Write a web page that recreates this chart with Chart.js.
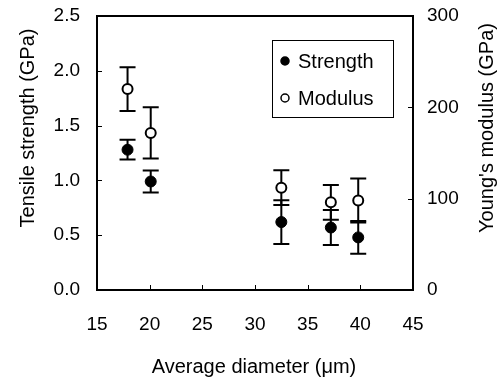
<!DOCTYPE html>
<html>
<head>
<meta charset="utf-8">
<script src="https://cdn.jsdelivr.net/npm/chart.js@4.4.1/dist/chart.umd.min.js"></script>
<style>
  html, body { margin: 0; padding: 0; background: #fff; }
  #wrap { width: 500px; height: 377px; }
</style>
</head>
<body>
<div id="wrap"><canvas id="fiberChart" width="500" height="377"></canvas></div>
<script>
// values
const diameters = [17.9, 20.1, 32.5, 37.2, 39.8];
const strength = [1.28, 0.99, 0.62, 0.57, 0.48];
const strengthErr = [0.09, 0.10, 0.20, 0.16, 0.15];
const modulus = [220, 172, 112, 96, 98];
const modulusErr = [24, 28, 19, 19, 24];
const xTicks = [15, 20, 25, 30, 35, 40, 45];
const strengthTicks = [0, 0.5, 1.0, 1.5, 2.0, 2.5];
const modulusTicks = [0, 100, 200, 300];
const leftTitle = "Tensile strength (GPa)";
const rightTitle = "Young's modulus (GPa)";
const bottomTitle = "Average diameter (μm)";

const FONT = "'Liberation Sans', Arial, sans-serif";

// error bars, frame, inward ticks, axis titles and legend box
const extras = {
  id: "extras",
  beforeDatasetsDraw(chart) {
    const ctx = chart.ctx;
    const x = chart.scales.x;
    ctx.save();
    ctx.strokeStyle = "#000";
    ctx.lineWidth = 2;
    chart.data.datasets.forEach((ds) => {
      const ys = chart.scales[ds.yAxisID];
      ds.data.forEach((p, i) => {
        const px = x.getPixelForValue(p.x);
        const top = ys.getPixelForValue(p.y + ds.errors[i]);
        const bot = ys.getPixelForValue(p.y - ds.errors[i]);
        ctx.beginPath();
        ctx.moveTo(px, top);
        ctx.lineTo(px, bot);
        ctx.moveTo(px - 8, top);
        ctx.lineTo(px + 8, top);
        ctx.moveTo(px - 8, bot);
        ctx.lineTo(px + 8, bot);
        ctx.stroke();
      });
    });
    ctx.restore();
  },
  afterDraw(chart) {
    const ctx = chart.ctx;
    const { x, y, y2 } = chart.scales;
    const a = { left: x.left, right: x.right, top: y.top, bottom: y.bottom };
    ctx.save();
    ctx.strokeStyle = "#000";
    ctx.lineWidth = 2;
    ctx.strokeRect(a.left, a.top, a.right - a.left, a.bottom - a.top);
    ctx.lineWidth = 1;
    ctx.beginPath();
    xTicks.forEach((v) => {
      const px = Math.round(x.getPixelForValue(v)) + 0.5;
      ctx.moveTo(px, a.bottom);
      ctx.lineTo(px, a.bottom - 5);
    });
    strengthTicks.forEach((v) => {
      const py = Math.round(y.getPixelForValue(v)) + 0.5;
      ctx.moveTo(a.left, py);
      ctx.lineTo(a.left + 5, py);
    });
    modulusTicks.forEach((v) => {
      const py = Math.round(y2.getPixelForValue(v)) + 0.5;
      ctx.moveTo(a.right, py);
      ctx.lineTo(a.right - 5, py);
    });
    ctx.stroke();

    // axis titles; both side titles read bottom to top
    ctx.fillStyle = "#000";
    ctx.font = "20px " + FONT;
    ctx.textAlign = "center";
    ctx.textBaseline = "middle";
    ctx.fillText(bottomTitle, 254, 367);
    [[28, leftTitle], [487, rightTitle]].forEach(([tx, text]) => {
      ctx.save();
      ctx.translate(tx, 128);
      ctx.rotate(-Math.PI / 2);
      ctx.fillText(text, 0, 0);
      ctx.restore();
    });

    // legend
    const lx = 272, ly = 40, lw = 121, lh = 77;
    ctx.lineWidth = 1;
    ctx.strokeRect(lx + 0.5, ly + 0.5, lw, lh);
    ctx.textAlign = "left";
    chart.data.datasets.forEach((ds, i) => {
      const cy = ly + 21 + i * 37;
      ctx.beginPath();
      ctx.arc(lx + 13, cy, 4, 0, Math.PI * 2);
      ctx.fillStyle = ds.pointBackgroundColor;
      ctx.fill();
      ctx.lineWidth = 1.5;
      ctx.stroke();
      ctx.fillStyle = "#000";
      ctx.fillText(ds.label, lx + 26, cy + 1);
    });
    ctx.restore();
  }
};

const fitSide = (w) => (s) => {
  s.width = w;
  s.paddingTop = 16;
  s.paddingBottom = 0;
};

new Chart(document.getElementById("fiberChart"), {
  type: "scatter",
  data: {
    datasets: [
      {
        label: "Strength",
        data: diameters.map((d, i) => ({ x: d, y: strength[i] })),
        errors: strengthErr,
        yAxisID: "y",
        pointRadius: 5.5,
        pointBackgroundColor: "#000",
        pointBorderColor: "#000",
        pointBorderWidth: 1
      },
      {
        label: "Modulus",
        data: diameters.map((d, i) => ({ x: d, y: modulus[i] })),
        errors: modulusErr,
        yAxisID: "y2",
        pointRadius: 5,
        pointBackgroundColor: "#fff",
        pointBorderColor: "#000",
        pointBorderWidth: 2
      }
    ]
  },
  options: {
    responsive: false,
    animation: false,
    layout: { padding: 0 },
    plugins: { legend: { display: false }, tooltip: { enabled: false } },
    scales: {
      x: {
        type: "linear",
        min: 15,
        max: 45,
        afterFit: (s) => { s.height = 87; },
        afterBuildTicks: (s) => { s.ticks = xTicks.map((v) => ({ value: v })); },
        grid: { display: false },
        border: { display: false },
        ticks: { color: "#000", padding: 15, font: { family: FONT, size: 19 } }
      },
      y: {
        position: "left",
        min: 0,
        max: 2.5,
        afterFit: fitSide(97),
        afterBuildTicks: (s) => { s.ticks = strengthTicks.map((v) => ({ value: v })); },
        grid: { display: false },
        border: { display: false },
        ticks: {
          color: "#000",
          padding: 9,
          font: { family: FONT, size: 19 },
          callback: (v) => v.toFixed(1)
        }
      },
      y2: {
        position: "right",
        min: 0,
        max: 300,
        afterFit: fitSide(87),
        afterBuildTicks: (s) => { s.ticks = modulusTicks.map((v) => ({ value: v })); },
        grid: { display: false },
        border: { display: false },
        ticks: { color: "#000", padding: 6, font: { family: FONT, size: 19 } }
      }
    }
  },
  plugins: [extras]
});
</script>
</body>
</html>
